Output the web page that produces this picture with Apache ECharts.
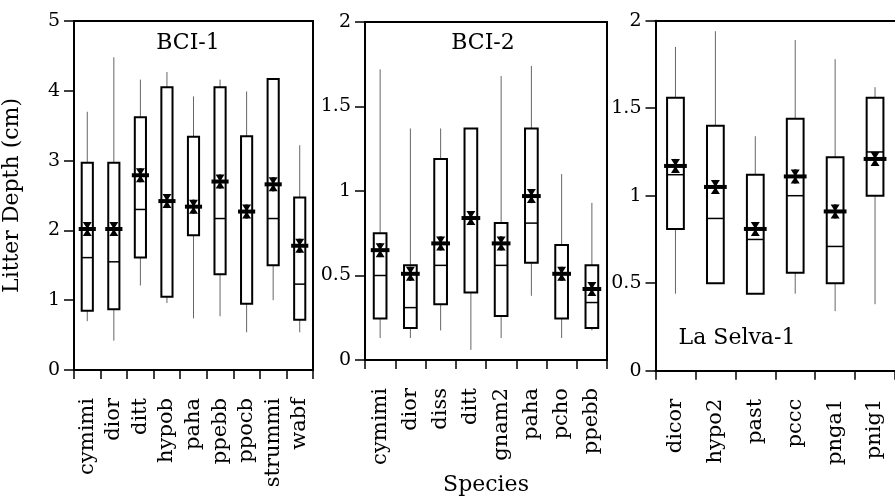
<!DOCTYPE html>
<html>
<head>
<meta charset="utf-8">
<script src="https://cdn.jsdelivr.net/npm/echarts@6/dist/echarts.min.js"></script>
<style>html,body{margin:0;padding:0;background:#fff}#c{width:895px;height:501px}</style>
</head>
<body>
<div id="c"></div>
<script>
// ---- Panel 1: BCI-1 ----
var cats1 = ['cymimi','dior','ditt','hypob','paha','ppebb','ppocb','strummi','wabf'];
var low1  = [0.70, 0.42, 1.21, 0.96, 0.74, 0.77, 0.54, 1.00, 0.54];
var q1_1  = [0.85, 0.87, 1.61, 1.05, 1.93, 1.37, 0.95, 1.50, 0.72];
var med1  = [1.61, 1.55, 2.30, 2.42, 2.34, 2.17, 2.27, 2.17, 1.23];
var q3_1  = [2.97, 2.97, 3.62, 4.05, 3.34, 4.05, 3.35, 4.17, 2.47];
var high1 = [3.70, 4.48, 4.16, 4.27, 3.92, 4.16, 3.99, 4.17, 3.22];
var mean1 = [2.02, 2.02, 2.79, 2.42, 2.34, 2.70, 2.27, 2.66, 1.78];
var ticks1 = [0, 1, 2, 3, 4, 5];

// ---- Panel 2: BCI-2 ----
var cats2 = ['cymimi','dior','diss','ditt','gnam2','paha','pcho','ppebb'];
var low2  = [0.13, 0.13, 0.175, 0.06, 0.13, 0.38, 0.13, 0.175];
var q1_2  = [0.245, 0.19, 0.33, 0.40, 0.26, 0.575, 0.246, 0.19];
var med2  = [0.50, 0.31, 0.56, 0.84, 0.56, 0.81, 0.51, 0.34];
var q3_2  = [0.75, 0.56, 1.19, 1.37, 0.81, 1.37, 0.68, 0.56];
var high2 = [1.72, 1.37, 1.37, 1.37, 1.68, 1.74, 1.10, 0.93];
var mean2 = [0.65, 0.51, 0.69, 0.84, 0.69, 0.97, 0.51, 0.42];
var ticks2 = [0, 0.5, 1, 1.5, 2];

// ---- Panel 3: La Selva-1 ----
var cats3 = ['dicor','hypo2','past','pccc','pnga1','pnig1'];
var low3  = [0.44, 0.50, 0.44, 0.44, 0.34, 0.38];
var q1_3  = [0.81, 0.50, 0.44, 0.56, 0.50, 1.00];
var med3  = [1.12, 0.87, 0.75, 1.00, 0.71, 1.25];
var q3_3  = [1.56, 1.40, 1.12, 1.44, 1.22, 1.56];
var high3 = [1.85, 1.94, 1.34, 1.89, 1.78, 1.62];
var mean3 = [1.17, 1.05, 0.81, 1.11, 0.91, 1.21];
var ticks3 = [0, 0.5, 1, 1.5, 2];

var panelTitles = ['BCI-1', 'BCI-2', 'La Selva-1'];
var yTitle = 'Litter Depth (cm)';
var xTitle = 'Species';

var FONT = 'DejaVu Serif';

function rows(low, q1, med, q3, high, mean) {
  return low.map(function (v, i) { return [i, low[i], q1[i], med[i], q3[i], high[i], mean[i]]; });
}

function renderBox(params, api) {
  var idx = api.value(0);
  var band = api.size([1, 0])[0];
  var bw = band * 0.42;
  var pLow = api.coord([idx, api.value(1)]);
  var pQ1 = api.coord([idx, api.value(2)]);
  var pMed = api.coord([idx, api.value(3)]);
  var pQ3 = api.coord([idx, api.value(4)]);
  var pHigh = api.coord([idx, api.value(5)]);
  var pMean = api.coord([idx, api.value(6)]);
  var x = pQ1[0];
  var l = x - bw / 2, r = x + bw / 2;
  var children = [];
  var wStyle = { stroke: '#666', lineWidth: 1, fill: null };
  children.push({ type: 'line', shape: { x1: x, y1: pQ3[1], x2: x, y2: pHigh[1] }, style: wStyle });
  children.push({ type: 'line', shape: { x1: x, y1: pQ1[1], x2: x, y2: pLow[1] }, style: wStyle });
  children.push({ type: 'rect', shape: { x: l, y: pQ3[1], width: bw, height: pQ1[1] - pQ3[1] },
    style: { stroke: '#000', lineWidth: 2, fill: '#fff' } });
  children.push({ type: 'line', shape: { x1: l, y1: pMed[1], x2: r, y2: pMed[1] },
    style: { stroke: '#000', lineWidth: 1.5 } });
  var ym = pMean[1];
  var half = bw / 2 + 3;
  children.push({ type: 'rect', shape: { x: x - half, y: ym - 2, width: half * 2, height: 4 },
    style: { fill: '#000' } });
  var hw = 4.5, hh = 7;
  children.push({ type: 'polygon', shape: { points: [[x - hw, ym - hh], [x + hw, ym - hh], [x, ym]] },
    style: { fill: '#000' } });
  children.push({ type: 'polygon', shape: { points: [[x - hw, ym + hh], [x + hw, ym + hh], [x, ym]] },
    style: { fill: '#000' } });
  children.push({ type: 'rect', shape: { x: x - 1.2, y: ym - hh, width: 2.4, height: hh * 2 },
    style: { fill: '#000' } });
  return { type: 'group', children: children };
}

var grids = [
  { left: 71, top: 21, width: 242, height: 349, show: true },
  { left: 365, top: 22, width: 242, height: 352, show: true },
  { left: 655.5, top: 20.7, width: 244, height: 350, show: false }
];
var allCats = [cats1, cats2, cats3];
var allTicks = [ticks1, ticks2, ticks3];
var allData = [
  rows(low1, q1_1, med1, q3_1, high1, mean1),
  rows(low2, q1_2, med2, q3_2, high2, mean2),
  rows(low3, q1_3, med3, q3_3, high3, mean3)
];

var xAxes = allCats.map(function (c, i) {
  var ax = {
    type: 'category', gridIndex: i, data: c, boundaryGap: true, position: 'bottom',
    axisLine: { show: true, onZero: false, lineStyle: { color: '#000', width: 2 } },
    axisTick: { show: true, length: 9, inside: false, lineStyle: { color: '#000', width: 1.5 } },
    axisLabel: { rotate: 90, margin: 28, color: '#000', fontFamily: FONT, fontSize: 21, interval: 0 },
    splitLine: { show: false }
  };
  if (i === 1) {
    ax.name = xTitle; ax.nameLocation = 'middle'; ax.nameGap = 114;
    ax.nameTextStyle = { color: '#000', fontFamily: FONT, fontSize: 22 };
  }
  return ax;
});
// top frame line of the third panel (its right edge lies outside the picture)
xAxes.push({
  type: 'category', gridIndex: 2, data: cats3, position: 'top',
  axisLine: { show: true, onZero: false, lineStyle: { color: '#000', width: 2 } },
  axisTick: { show: false }, axisLabel: { show: false }, splitLine: { show: false }
});

var option = {
  animation: false,
  backgroundColor: '#fff',
  grid: grids.map(function (g) {
    return Object.assign({ borderColor: '#000', borderWidth: 2, backgroundColor: 'transparent' }, g);
  }),
  xAxis: xAxes,
  yAxis: allTicks.map(function (t, i) {
    var ax = {
      type: 'value', gridIndex: i, min: t[0], max: t[t.length - 1], interval: t[1] - t[0],
      axisLine: { show: true, lineStyle: { color: '#000', width: 2 } },
      axisTick: { show: true, length: 10, lineStyle: { color: '#000', width: 1.5 } },
      axisLabel: { margin: 14, color: '#000', fontFamily: FONT, fontSize: 19 },
      splitLine: { show: false }
    };
    if (i === 0) {
      ax.name = yTitle; ax.nameLocation = 'middle'; ax.nameGap = 51;
      ax.nameTextStyle = { color: '#000', fontFamily: FONT, fontSize: 22 };
    }
    return ax;
  }),
  graphic: [
    { type: 'text', x: 188, y: 43, style: { text: panelTitles[0], font: '22px "DejaVu Serif"', fill: '#000', textAlign: 'center', textVerticalAlign: 'middle' } },
    { type: 'text', x: 483, y: 43, style: { text: panelTitles[1], font: '22px "DejaVu Serif"', fill: '#000', textAlign: 'center', textVerticalAlign: 'middle' } },
    { type: 'text', x: 737, y: 338, style: { text: panelTitles[2], font: '22px "DejaVu Serif"', fill: '#000', textAlign: 'center', textVerticalAlign: 'middle' } }
  ],
  series: allData.map(function (d, i) {
    return {
      type: 'custom', xAxisIndex: i, yAxisIndex: i, renderItem: renderBox,
      encode: { x: 0, y: [1, 2, 3, 4, 5, 6] }, data: d, clip: false
    };
  })
};

var chart = echarts.init(document.getElementById('c'), null, { renderer: 'canvas' });
chart.setOption(option);
</script>
</body>
</html>
